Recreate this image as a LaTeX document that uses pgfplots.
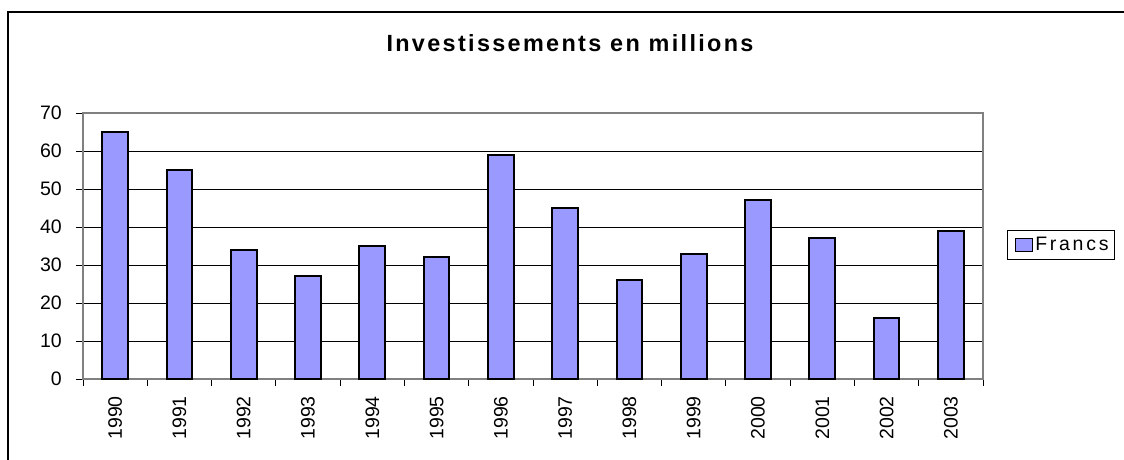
\documentclass[border=0pt]{standalone}
\usepackage{fontspec}
\setmainfont{Liberation Sans}
\newfontfamily\titlefont[LetterSpace=10]{Liberation Sans}
\newfontfamily\legfont[LetterSpace=14]{Liberation Sans}
\usepackage{pgfplots}
\pgfplotsset{compat=1.18}
\definecolor{barblue}{RGB}{153,153,255}

\begin{document}
\begin{tikzpicture}
\useasboundingbox (0,0) rectangle (1124pt,459pt);
% chart area border
\draw[line width=2pt] (8pt,-20pt) -- (8pt,447pt) -- (1140pt,447pt);
\node[anchor=base, font=\titlefont\bfseries\fontsize{23.4}{26}\selectfont] at (570pt,407pt) {Investissements en millions};

\begin{axis}[
    at={(83pt,80pt)}, anchor=south west,
    scale only axis,
    width=900pt, height=266pt,
    xmin=-0.5, xmax=13.5,
    ymin=0, ymax=70,
    ytick={0,10,...,70},
    xtick={-0.5,0.5,...,13.5},
    x tick label as interval,
    xticklabels={1990,1991,1992,1993,1994,1995,1996,1997,1998,1999,2000,2001,2002,2003},
    % shifts act in the rotated frame: negative xshift moves the label down
    x tick label style={rotate=90, anchor=east, inner sep=0pt, xshift=-10pt},
    y tick label style={anchor=east, inner sep=0pt, xshift=-14pt},
    tick label style={font=\fontsize{19.5}{23}\selectfont},
    /pgf/number format/assume math mode=true,
    tick align=outside,
    major tick length=7pt,
    xtick pos=bottom, ytick pos=left,
    tick style={black, line width=1pt},
    axis line style={draw=gray, line width=1.5pt},
    ymajorgrids,
    major grid style={black, line width=1pt},
    legend style={at={(1.0267,0.504)}, anchor=west, draw=black, line width=1pt,
        font=\legfont\fontsize{19.5}{23}\selectfont, inner xsep=4pt, inner ysep=5pt,
        cells={anchor=west}},
    legend image code/.code={\path (0pt,0pt);\draw[#1, line width=1.5pt] (3pt,-6.5pt) rectangle (20pt,6.5pt);},
]
\addplot[ybar, bar width=25.7pt, fill=barblue, draw=black, line width=2pt] coordinates {
    (0,65) (1,55) (2,34) (3,27) (4,35) (5,32) (6,59)
    (7,45) (8,26) (9,33) (10,47) (11,37) (12,16) (13,39)
};
\addlegendentry{Francs}
\end{axis}
\end{tikzpicture}
\end{document}
